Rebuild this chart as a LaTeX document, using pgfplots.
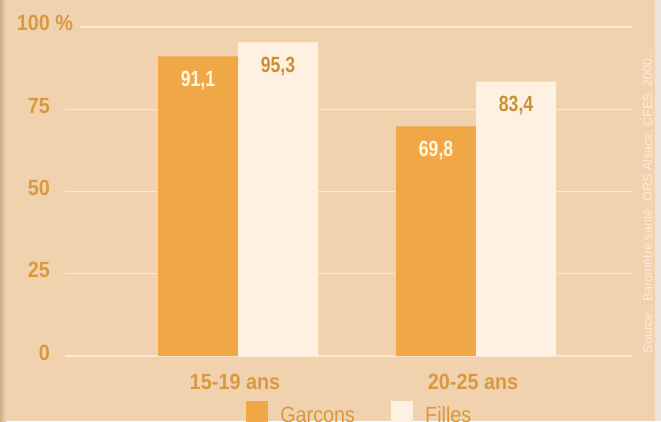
\documentclass[border=0pt]{standalone}
\usepackage{fontspec}
\setmainfont{Liberation Sans}
\newfontfamily\condfont[FakeStretch=0.9]{Liberation Sans}
\newfontfamily\valfont[FakeStretch=0.8]{Liberation Sans}
\usepackage{pgfplots}
\pgfplotsset{compat=1.18}
\definecolor{bg}{RGB}{240,211,174}
\definecolor{barA}{RGB}{240,168,70}
\definecolor{barB}{RGB}{254,241,225}
\definecolor{txt}{RGB}{218,152,64}
\definecolor{valdark}{RGB}{200,145,50}
\definecolor{vallight}{RGB}{255,246,222}
\definecolor{gridc}{RGB}{248,232,212}
\definecolor{srcc}{RGB}{251,236,218}
\definecolor{strip}{RGB}{236,228,220}
\definecolor{shadow}{RGB}{205,175,140}

\begin{document}
\begin{tikzpicture}
\clip (0,0) rectangle (661pt,421pt);
\fill[bg] (0,0) rectangle (661pt,421pt);
\shade[left color=shadow, right color=bg] (0,0) rectangle (6pt,421pt);
\fill[strip] (655pt,0) rectangle (661pt,421pt);
\draw[gridc, line width=1.2pt] (80pt,394pt) -- (632pt,394pt);
\begin{axis}[
    at={(65pt,65pt)}, anchor=south west,
    scale only axis, width=567pt, height=329pt,
    ybar=0pt, bar width=80pt,
    xmin=-0.727, xmax=1.655, ymin=0, ymax=100,
    axis line style={draw=none},
    xtick={0,1}, xticklabels={15-19 ans, 20-25 ans},
    ytick={0,25,50,75}, yticklabels={0,25,50,75},
    extra y ticks={100}, extra y tick labels={100\rlap{ \%}},
    extra y tick style={grid=none},
    major tick length=0pt,
    ymajorgrids, grid style={gridc, line width=1.2pt},
    x tick label style={font=\condfont\bfseries\fontsize{22}{22}\selectfont, text=txt, anchor=base, inner sep=0pt, yshift=-33pt, xshift=-3pt},
    y tick label style={font=\condfont\bfseries\fontsize{22}{22}\selectfont, text=txt, anchor=base east, inner sep=0pt, xshift=-15pt, yshift=-4pt},
    legend columns=2,
    legend style={draw=none, fill=none, at={(0.52,-0.175)}, anchor=center,
        font=\condfont\fontsize{22}{22}\selectfont, text=txt,
        /tikz/every odd column/.append style={column sep=10pt},
        /tikz/every even column/.append style={column sep=34pt}},
    legend image code/.code={\fill[#1] (0pt,-8pt) rectangle (22pt,14pt);},
    nodes near coords={\pgfmathprintnumber[use comma,fixed,fixed zerofill,precision=1,assume math mode=true]{\pgfplotspointmeta}},
]
\addplot[fill=barA, draw=none,
    every node near coord/.append style={font=\valfont\bfseries\fontsize{22}{22}\selectfont, text=vallight, anchor=base, inner sep=0pt, yshift=-30pt}]
    coordinates {(0,91.1) (1,69.8)};
\addplot[fill=barB, draw=none,
    every node near coord/.append style={font=\valfont\bfseries\fontsize{22}{22}\selectfont, text=valdark, anchor=base, inner sep=0pt, yshift=-30pt}]
    coordinates {(0,95.3) (1,83.4)};
\legend{Garcons, Filles}
\end{axis}
\node[rotate=90, text=srcc, font=\fontsize{12.5}{12.5}\selectfont, inner sep=0pt] at (648pt,217pt) {Source : Baromètre santé. ORS Alsace, CFES. 2000.};
\end{tikzpicture}
\end{document}
